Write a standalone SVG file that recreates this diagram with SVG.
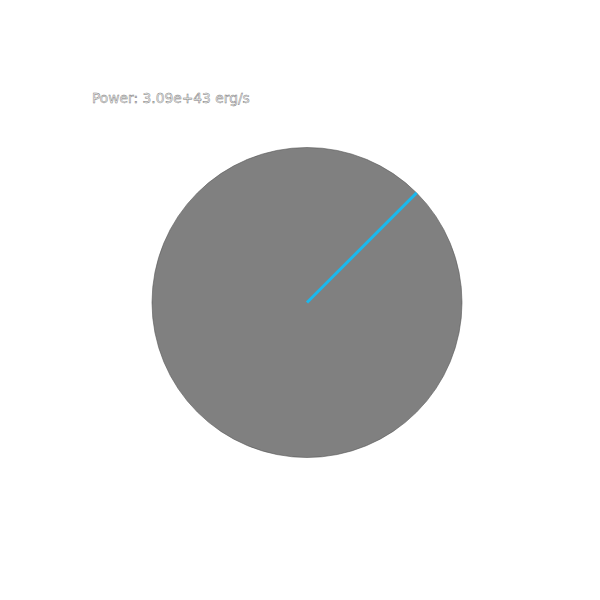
<svg xmlns="http://www.w3.org/2000/svg" width="600" height="600" viewBox="0 0 600 600">
<style>
.lbl{font-family:"DejaVu Sans",sans-serif;font-size:13.8px;fill:#f4f4f4;stroke:#777;stroke-width:0.45px;}
</style>
<rect width="600" height="600" fill="#fff"/>
<g id="disk"><circle cx="307" cy="302.5" r="155" fill="#808080" stroke="#555" stroke-width="0.6"/></g>
<g id="connectors"><line x1="307" y1="302.5" x2="416.6" y2="192.9" stroke="#1ab8ee" stroke-width="3"/></g>
<g id="label"><text class="lbl" x="92" y="103">Power: 3.09e+43 erg/s</text></g>
</svg>
